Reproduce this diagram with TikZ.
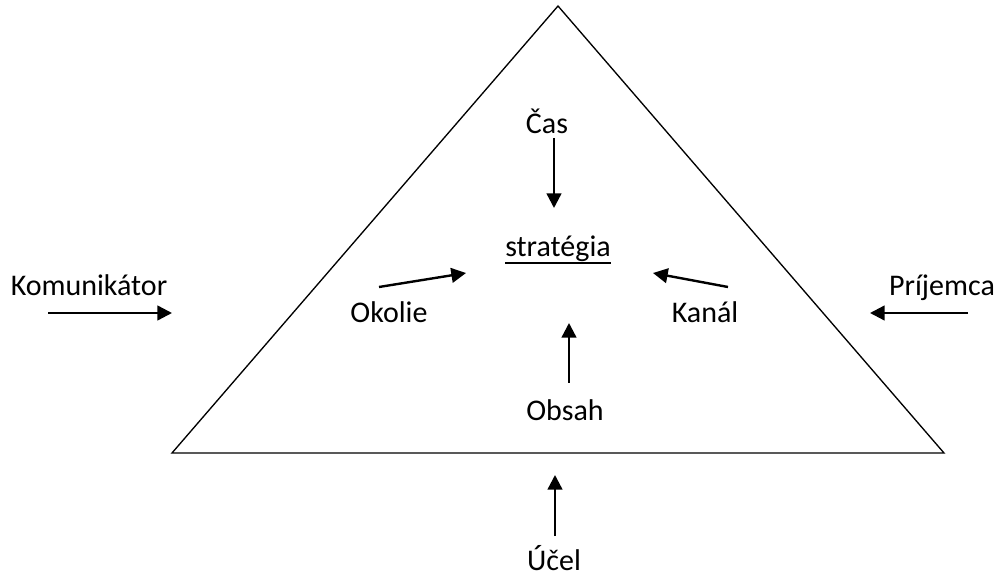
\documentclass[tikz,border=0pt]{standalone}
\usepackage{fontspec}
\setmainfont{Carlito}
\usetikzlibrary{arrows.meta}

\begin{document}
\begin{tikzpicture}[x=0.75pt,y=-0.75pt,
	lbl/.style={anchor=base,inner sep=0pt,font=\fontsize{22.5}{27}\selectfont},
	arr/.style={line width=1.8pt,-{Triangle[length=11pt,width=11pt]}}]
	\useasboundingbox (0,0) rectangle (997,577);

	% Triangle
	\coordinate (top) at (558,6);
	\coordinate (bl) at (172,453);
	\coordinate (br) at (944,453);
	\draw[line width=1pt,line join=miter] (top) -- (bl) -- (br) -- cycle;

	% Labels
	\node[lbl] (cas) at (547,134) {Čas};
	\node[lbl] (strat) at (558,257) {stratégia};
	\draw[line width=1.5pt] ([yshift=-4.5pt]strat.base west) -- ([yshift=-4.5pt]strat.base east);
	\node[lbl] (okolie) at (389,323) {Okolie};
	\node[lbl] (kanal) at (705,323) {Kanál};
	\node[lbl] (obsah) at (565,421) {Obsah};
	\node[lbl] (kom) at (89,296) {Komunikátor};
	\node[lbl] (prij) at (942,296) {Príjemca};
	\node[lbl] (ucel) at (554,570) {Účel};

	% Arrow ends
	\coordinate (cas1) at (554,138);  \coordinate (cas2) at (554,208);
	\coordinate (oko1) at (379,287);  \coordinate (oko2) at (466,273);
	\coordinate (kan1) at (728,287);  \coordinate (kan2) at (653,273);
	\coordinate (obs1) at (569,383);  \coordinate (obs2) at (569,323);
	\coordinate (kom1) at (48,313);   \coordinate (kom2) at (172,313);
	\coordinate (pri1) at (968,313);  \coordinate (pri2) at (870,313);
	\coordinate (uce1) at (555,536);  \coordinate (uce2) at (555,475);

	% Arrows
	\foreach \a/\b in {cas1/cas2,oko1/oko2,kan1/kan2,obs1/obs2,kom1/kom2,pri1/pri2,uce1/uce2}
	\draw[arr] (\a) -- (\b);
\end{tikzpicture}
\end{document}
